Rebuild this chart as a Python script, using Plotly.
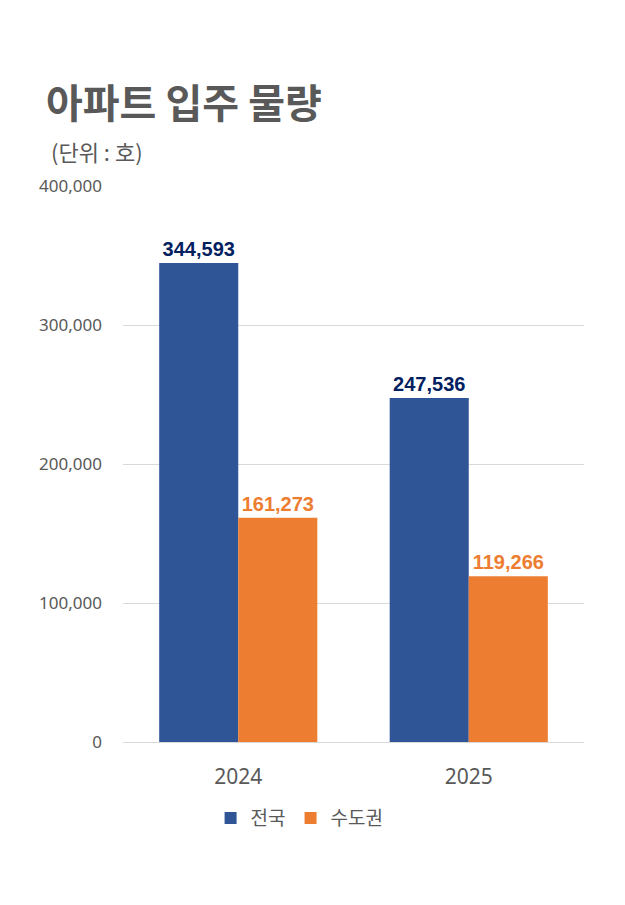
import plotly.graph_objects as go

years = ["2024", "2025"]
nationwide = [344593, 247536]
capital = [161273, 119266]
series_names = ["전국", "수도권"]
y_ticks = [0, 100000, 200000, 300000, 400000]
y_tick_labels = ["0", "100,000", "200,000", "300,000", "400,000"]

fig = go.Figure()
fig.add_trace(go.Bar(
    x=years, y=nationwide, name=series_names[0],
    marker=dict(color="#2F5597", line=dict(width=0)),
    text=[f"{v:,}" for v in nationwide], textposition="outside",
    textfont=dict(family="Liberation Sans, Arial", size=20, color="#002060", weight="bold"),
    cliponaxis=False,
))
fig.add_trace(go.Bar(
    x=years, y=capital, name=series_names[1],
    marker=dict(color="#ED7D31", line=dict(width=0)),
    text=[f"{v:,}" for v in capital], textposition="outside",
    textfont=dict(family="Liberation Sans, Arial", size=20, color="#ED7D31", weight="bold"),
    cliponaxis=False,
))

fig.update_layout(
    width=625, height=905,
    margin=dict(l=123, r=41, t=186, b=163),
    paper_bgcolor="white", plot_bgcolor="white",
    barmode="group", bargap=0.314, bargroupgap=0,
    font=dict(family="Noto Sans CJK KR, Noto Sans", color="#595959"),
    showlegend=True,
    legend=dict(orientation="h", x=0.19, xanchor="left", y=-0.137, yanchor="middle",
                font=dict(size=19, color="#595959", family="Noto Sans CJK KR"),
                itemwidth=30, traceorder="normal", tracegroupgap=0),
    annotations=[
        dict(text="<b>아파트 입주 물량</b>", xref="paper", yref="paper",
             x=-0.172, y=1.152, xanchor="left", yanchor="middle", showarrow=False,
             font=dict(size=40, color="#595959", family="Noto Sans CJK KR")),
        dict(text="(단위 : 호)", xref="paper", yref="paper",
             x=-0.16, y=1.063, xanchor="left", yanchor="middle", showarrow=False,
             font=dict(size=22, color="#595959", family="Noto Sans CJK KR")),
    ],
)
fig.update_yaxes(range=[0, 400000], tickvals=y_ticks, ticktext=y_tick_labels,
                 showgrid=True, gridcolor="#D9D9D9", gridwidth=1,
                 zeroline=True, zerolinecolor="#D9D9D9", zerolinewidth=1,
                 tickfont=dict(size=17, color="#595959", family="Noto Sans"),
                 ticks="", ticklabelstandoff=20, showline=False)
fig.update_xaxes(tickfont=dict(size=21, color="#595959", family="Noto Sans"),
                 ticks="", showline=False, ticklabelstandoff=20)

fig.write_html("out.html")
